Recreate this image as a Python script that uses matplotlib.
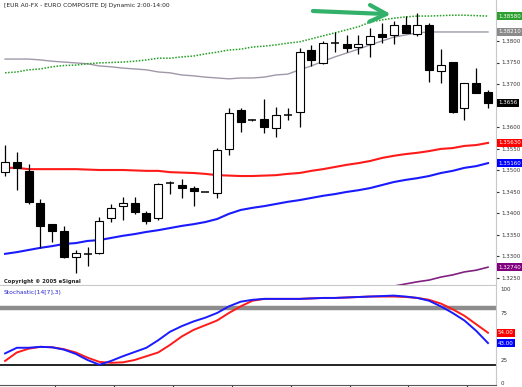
import numpy as np
import matplotlib.pyplot as plt
from matplotlib.transforms import blended_transform_factory

title = "[EUR A0-FX - EURO COMPOSITE DJ Dynamic 2:00-14:00"
copyright_txt = "Copyright \u00a9 2005 eSignal"
stoch_name = "Stochastic(14[7],3)"

# hourly candles, EUR/USD
opens = [1.3495, 1.3519, 1.3498, 1.3423, 1.3374, 1.3358, 1.3298, 1.3305, 1.3307, 1.3388,
         1.3416, 1.3423, 1.3400, 1.3388, 1.3470, 1.3465, 1.3458, 1.3449, 1.3447, 1.3549,
         1.3640, 1.3616, 1.3619, 1.3598, 1.3628, 1.3635, 1.3779, 1.3749, 1.3795, 1.3793,
         1.3786, 1.3793, 1.3816, 1.3814, 1.3837, 1.3816, 1.3837, 1.3730, 1.3751, 1.3644,
         1.3702, 1.3681]
highs = [1.3558, 1.3542, 1.3514, 1.3433, 1.3374, 1.3370, 1.3314, 1.3321, 1.3391, 1.3421,
         1.3437, 1.3437, 1.3405, 1.3470, 1.3474, 1.3479, 1.3463, 1.3449, 1.3551, 1.3644,
         1.3644, 1.3619, 1.3665, 1.3647, 1.3644, 1.3784, 1.3791, 1.3800, 1.3821, 1.3814,
         1.3814, 1.3830, 1.3842, 1.3847, 1.3858, 1.3865, 1.3842, 1.3781, 1.3751, 1.3702,
         1.3737, 1.3686]
lows = [1.3486, 1.3453, 1.3421, 1.3319, 1.3333, 1.3295, 1.3260, 1.3277, 1.3305, 1.3379,
        1.3384, 1.3398, 1.3374, 1.3384, 1.3444, 1.3435, 1.3416, 1.3449, 1.3435, 1.3535,
        1.3588, 1.3614, 1.3586, 1.3577, 1.3616, 1.3600, 1.3742, 1.3747, 1.3774, 1.3774,
        1.3770, 1.3763, 1.3795, 1.3793, 1.3819, 1.3812, 1.3705, 1.3702, 1.3633, 1.3616,
        1.3679, 1.3644]
closes = [1.3519, 1.3505, 1.3426, 1.3370, 1.3358, 1.3298, 1.3307, 1.3305, 1.3381, 1.3412,
          1.3423, 1.3402, 1.3381, 1.3467, 1.3470, 1.3458, 1.3451, 1.3449, 1.3547, 1.3633,
          1.3612, 1.3616, 1.3600, 1.3628, 1.3628, 1.3774, 1.3756, 1.3795, 1.3795, 1.3784,
          1.3793, 1.3812, 1.3809, 1.3837, 1.3819, 1.3837, 1.3733, 1.3744, 1.3635, 1.3702,
          1.3679, 1.3656]

ma_green = [1.3726, 1.3728, 1.3733, 1.3735, 1.3740, 1.3743, 1.3744, 1.3747, 1.3749, 1.3750,
            1.3751, 1.3753, 1.3756, 1.3760, 1.3760, 1.3763, 1.3765, 1.3770, 1.3774, 1.3779,
            1.3781, 1.3786, 1.3788, 1.3791, 1.3795, 1.3798, 1.3805, 1.3812, 1.3819, 1.3826,
            1.3833, 1.3844, 1.3849, 1.3853, 1.3856, 1.3858, 1.3858, 1.3859, 1.3860, 1.3860,
            1.3859, 1.3858]
ma_gray = [1.3758, 1.3758, 1.3758, 1.3756, 1.3753, 1.3751, 1.3749, 1.3747, 1.3742, 1.3740,
           1.3737, 1.3735, 1.3733, 1.3728, 1.3726, 1.3721, 1.3719, 1.3716, 1.3714, 1.3712,
           1.3714, 1.3714, 1.3716, 1.3721, 1.3723, 1.3733, 1.3742, 1.3753, 1.3763, 1.3772,
           1.3781, 1.3791, 1.3800, 1.3809, 1.3814, 1.3819, 1.3821, 1.3821, 1.3821, 1.3821,
           1.3821, 1.3821]
ma_red = [1.3505, 1.3505, 1.3502, 1.3502, 1.3502, 1.3502, 1.3502, 1.3501, 1.3500, 1.3500,
          1.3500, 1.3499, 1.3498, 1.3498, 1.3495, 1.3494, 1.3493, 1.3491, 1.3488, 1.3487,
          1.3486, 1.3486, 1.3487, 1.3488, 1.3491, 1.3493, 1.3498, 1.3502, 1.3507, 1.3512,
          1.3516, 1.3521, 1.3528, 1.3533, 1.3537, 1.3540, 1.3544, 1.3549, 1.3551, 1.3556,
          1.3558, 1.3563]
ma_blue = [1.3305, 1.3309, 1.3314, 1.3319, 1.3323, 1.3328, 1.3330, 1.3335, 1.3337, 1.3342,
           1.3347, 1.3351, 1.3356, 1.3360, 1.3365, 1.3370, 1.3374, 1.3379, 1.3386, 1.3398,
           1.3407, 1.3412, 1.3416, 1.3421, 1.3426, 1.3430, 1.3435, 1.3440, 1.3444, 1.3449,
           1.3453, 1.3458, 1.3465, 1.3472, 1.3477, 1.3481, 1.3486, 1.3493, 1.3498, 1.3505,
           1.3509, 1.3516]
purple_start = 33
ma_purple = [1.3230, 1.3235, 1.3240, 1.3244, 1.3251, 1.3256, 1.3263, 1.3267, 1.3274]

stoch_k = [32, 38, 38, 39, 38.5, 36, 31.5, 25, 20, 24, 29, 33.5, 38, 46, 55, 61, 66, 70, 75, 82,
           87, 89, 90, 90, 90, 90, 90.5, 91, 91, 91.5, 92, 92.5, 93, 93.5, 92.5, 91, 88, 82, 75, 67,
           56, 43]
stoch_d = [24, 33, 37, 39, 38.5, 36.5, 33, 27.5, 23, 22, 22.5, 25, 29, 33, 41, 50, 57, 62, 67, 75,
           82, 88, 90, 90, 90, 90, 90.5, 91, 91, 91.5, 92, 92.5, 92.5, 92.5, 92, 91, 89, 85, 79, 72,
           63, 54]

# 1.3650 sits under the last-price box, so it gets no label
price_ticks = [1.3250, 1.3300, 1.3350, 1.3400, 1.3450, 1.3500, 1.3550, 1.3600,
               1.3700, 1.3750, 1.3800]
stoch_ticks = [0, 25, 75, 100]
session_ticks = [4.25, 9.25, 14.25, 19.25, 24.25, 29.25, 34.25, 39.25]


def value_box(ax, y, txt, color, fc='white'):
    tr = blended_transform_factory(ax.transAxes, ax.transData)
    ax.text(1.004, y, txt, transform=tr, fontsize=4, color=fc, va='center', ha='left',
            bbox=dict(boxstyle='square,pad=0.25', fc=color, ec='none'),
            clip_on=False, zorder=10)


def draw_candles(ax):
    n = len(opens)
    x = np.arange(n)
    o = np.array(opens)
    c = np.array(closes)
    ax.vlines(x, lows, highs, color='black', lw=0.9, zorder=3)
    up = c >= o
    bottom = np.minimum(o, c)
    height = np.abs(c - o)
    w = 0.68
    flat = height < 0.00012
    ax.bar(x[up & ~flat], height[up & ~flat], w, bottom[up & ~flat],
           facecolor='white', edgecolor='black', lw=0.8, zorder=4)
    ax.bar(x[~up & ~flat], height[~up & ~flat], w, bottom[~up & ~flat],
           facecolor='black', edgecolor='black', lw=0.8, zorder=4)
    ax.hlines(o[flat], x[flat] - w / 2, x[flat] + w / 2, color='black', lw=1.1, zorder=4)


def plot():
    fig = plt.figure(figsize=(5.22, 3.87), dpi=100)
    ax = fig.add_axes([0.0, 1 - 285 / 387, 496 / 522, 285 / 387])
    ax2 = fig.add_axes([0.0, 2 / 387, 496 / 522, 99 / 387])

    xlim = (-0.43, 41.68)
    n = len(opens)
    x = np.arange(n)

    ax.plot(x, ma_gray, color='#a098a8', lw=1.0, zorder=2)
    ax.plot(x, ma_green, color='#22a022', lw=1.1, ls=(0, (1, 1)), zorder=2)
    ax.plot(x, ma_red, color='#ff1a1a', lw=1.5, zorder=2)
    ax.plot(x, ma_blue, color='#1a1aff', lw=1.5, zorder=2)
    ax.plot(np.arange(purple_start, purple_start + len(ma_purple)), ma_purple,
            color='#802080', lw=1.2, zorder=2)
    draw_candles(ax)

    ax.annotate('', xy=(33.0, 1.3862), xytext=(25.9, 1.3870),
                arrowprops=dict(arrowstyle='->', lw=3, color='#33b06a', mutation_scale=30),
                zorder=11)

    ax.set_xlim(*xlim)
    ax.set_ylim(1.37 - 201 / 4300, 1.37 + 84 / 4300)
    ax.set_xticks([])
    ax.yaxis.tick_right()
    ax.set_yticks(price_ticks)
    ax.set_yticklabels(['%.4f' % t for t in price_ticks])
    ax.tick_params(axis='y', length=2, pad=2, labelsize=4, colors='#333333')

    ax.text(0.008, 0.99, title, transform=ax.transAxes, fontsize=4.3, va='top', ha='left',
            color='#222222')
    ax.text(0.008, 0.005, copyright_txt, transform=ax.transAxes, fontsize=3.8, va='bottom',
            ha='left', fontweight='bold', color='#222222')

    value_box(ax, ma_green[-1], '%.5f' % ma_green[-1], '#2ea02e')
    value_box(ax, ma_gray[-1], '%.5f' % ma_gray[-1], '#8a8a8a')
    value_box(ax, closes[-1], '%.4f' % closes[-1], 'black')
    value_box(ax, ma_red[-1], '%.5f' % ma_red[-1], '#ff0000')
    value_box(ax, ma_blue[-1], '%.5f' % ma_blue[-1], '#0000ff')
    value_box(ax, ma_purple[-1], '%.5f' % ma_purple[-1], '#800080')

    for s in ['top', 'left']:
        ax.spines[s].set_visible(False)
    ax.spines['right'].set_color('#c8c8c8')
    ax.spines['bottom'].set_color('#c8c8c8')

    # stochastic panel
    ax2.axhline(80, color='#8c8c8c', lw=3.2, zorder=1)
    ax2.axhline(20, color='black', lw=1.2, zorder=1)
    ax2.plot(x, stoch_d, color='#ff1a1a', lw=1.4, zorder=3)
    ax2.plot(x, stoch_k, color='#1a1aff', lw=1.4, zorder=3)
    ax2.set_xlim(*xlim)
    ax2.set_ylim(-1.6, 103.7)
    ax2.yaxis.tick_right()
    ax2.set_yticks(stoch_ticks)
    ax2.set_yticklabels([str(t) for t in stoch_ticks])
    ax2.tick_params(axis='y', length=0, pad=3, labelsize=4, colors='#333333')
    ax2.set_xticks(session_ticks)
    ax2.set_xticklabels([])
    ax2.tick_params(axis='x', direction='out', length=3, width=0.8, colors='#333333')
    ax2.text(0.008, 0.96, stoch_name, transform=ax2.transAxes, fontsize=4.3, va='top',
             ha='left', color='#2222cc')
    value_box(ax2, stoch_d[-1], '%.2f' % stoch_d[-1], '#ff0000')
    value_box(ax2, stoch_k[-1], '%.2f' % stoch_k[-1], '#0000ff')
    ax2.spines['top'].set_visible(False)
    ax2.spines['left'].set_visible(False)
    ax2.spines['right'].set_color('#c8c8c8')
    ax2.spines['bottom'].set_color('#555555')

    fig.savefig('out.png', dpi=100)


if __name__ == "__main__":
    plot()
